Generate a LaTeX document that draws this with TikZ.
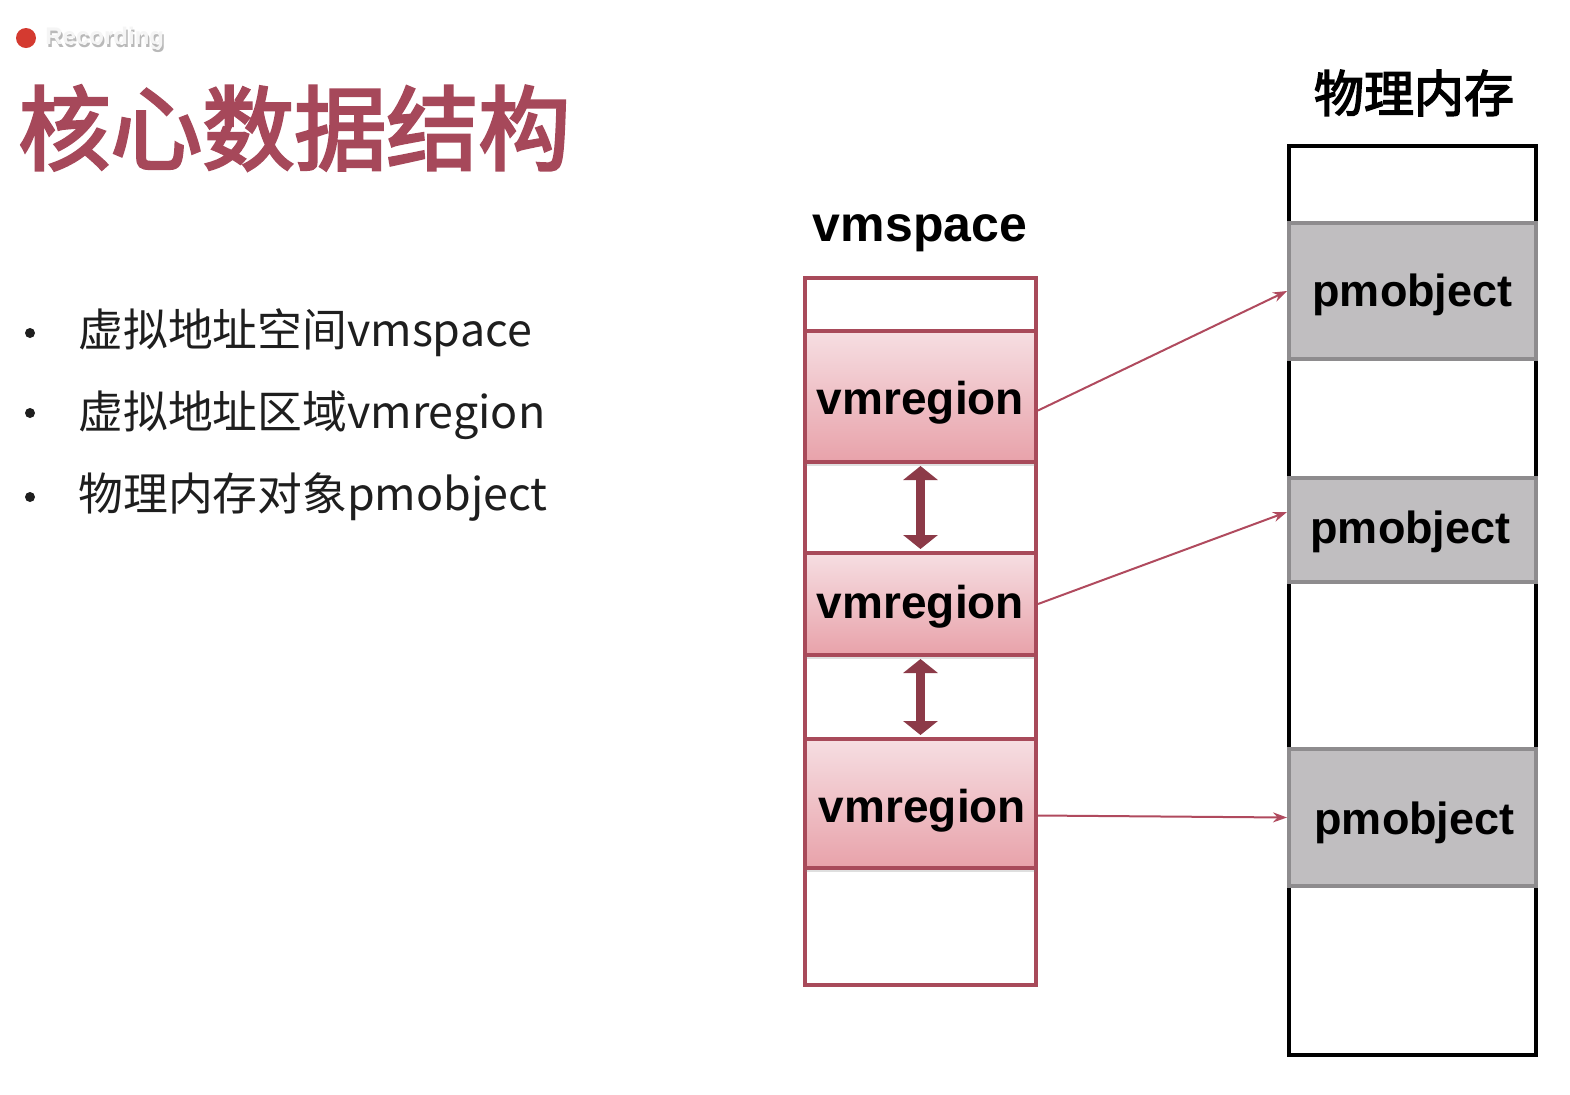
\documentclass[tikz,border=0pt]{standalone}
\usepackage{fontspec}
\setmainfont{Liberation Sans}
\newfontfamily\cjk{Noto Sans CJK SC}
\newfontfamily\cjkb{Noto Sans CJK SC}[FakeBold=3]
\usetikzlibrary{arrows.meta,shadows}
\definecolor{title}{RGB}{166,72,90}
\definecolor{vmred}{RGB}{168,74,90}
\definecolor{vmtop}{RGB}{246,222,226}
\definecolor{vmbot}{RGB}{232,162,170}
\definecolor{darr}{RGB}{140,58,72}
\definecolor{pmfill}{RGB}{192,190,192}
\definecolor{pmline}{RGB}{142,140,142}
\definecolor{lnk}{RGB}{176,74,94}
\definecolor{txt}{RGB}{30,30,30}
\definecolor{recdot}{RGB}{212,58,48}
\begin{document}
\begin{tikzpicture}[x=0.5pt,y=-0.5pt,
  vmbox/.style={draw=vmred,line width=2pt,minimum width=115.5pt,inner sep=0pt},
  vmreg/.style={vmbox,top color=vmtop,bottom color=vmbot,
     drop shadow={shadow xshift=0pt,shadow yshift=-2pt,opacity=0.25}},
  pmbox/.style={draw=black,line width=2pt,minimum width=123.5pt,inner sep=0pt},
  pmobj/.style={draw=pmline,fill=pmfill,line width=2pt,minimum width=123.5pt,inner sep=0pt},
  lbl/.style={inner sep=0pt,font=\bfseries\fontsize{23}{26}\selectfont},
  plbl/.style={inner sep=0pt,font=\bfseries\fontsize{22.5}{26}\selectfont},
  link/.style={draw=lnk,line width=1pt,-{Stealth[length=7pt,width=5pt]}},
  dbl/.style={draw=darr,line width=4.5pt,{Triangle[length=7pt,width=17pt]}-{Triangle[length=7pt,width=17pt]},shorten <=1pt,shorten >=1pt},
  bullet/.style={anchor=west,font=\cjk\fontsize{22.4}{26}\selectfont,text=txt,inner sep=0pt},
  dot/.style={circle,fill=txt,inner sep=0pt,minimum size=5pt}]
\useasboundingbox (0,0) rectangle (1570,1094);
\fill[white] (0,0) rectangle (1570,1094);
% recording overlay
\fill[recdot] (26,38) circle (10);
\node[anchor=west,inner sep=0pt,text=gray!55,font=\bfseries\fontsize{12}{14}\selectfont] (recs) at (46.5,41) {Recording};
\node[anchor=west,inner sep=0pt,text=gray!8,font=\bfseries\fontsize{12}{14}\selectfont] (rec) at (45,38) {Recording};
% title
\node[anchor=west,inner sep=0pt,text=title,font=\cjkb\fontsize{46}{50}\selectfont] (title) at (18,128) {核心数据结构};
% bullets
\node[dot] (b1) at (30,333) {};
\node[dot] (b2) at (30,413) {};
\node[dot] (b3) at (30,497) {};
\node[bullet] (t1) at (78,333) {虚拟地址空间vmspace};
\node[bullet] (t2) at (78,415) {虚拟地址区域vmregion};
\node[bullet] (t3) at (78,497) {物理内存对象pmobject};
% vmspace
\node[font=\bfseries\fontsize{25}{28}\selectfont,inner sep=0pt] (vmlabel) at (920,233) {vmspace};
\node[vmbox,minimum height=353.5pt] (vms) at (920.5,631.5) {};
\node[vmreg,minimum height=65.5pt] (vr1) at (920.5,396.5) {};
\node[vmreg,minimum height=51pt] (vr2) at (920.5,604) {};
\node[vmreg,minimum height=64.5pt] (vr3) at (920.5,803.5) {};
\node[lbl] (vl1) at ([yshift=-3pt]vr1.center) {vmregion};
\node[lbl] (vl2) at ([yshift=-1.5pt]vr2.center) {vmregion};
\node[lbl] (vl3) at ([xshift=1pt,yshift=-3.5pt]vr3.center) {vmregion};
\draw[dbl] (vr1.south) -- (vr2.north);
\draw[dbl] (vr2.south) -- (vr3.north);
% physical memory
\node[font=\cjkb\fontsize{25}{28}\selectfont,inner sep=0pt] (pmlabel) at (1414,93) {物理内存};
\node[pmbox,minimum height=454.5pt] (pm) at (1412.5,600.5) {};
\node[pmobj,minimum height=68pt] (pm1) at (1412.5,291) {};
\node[pmobj,minimum height=52pt] (pm2) at (1412.5,530) {};
\node[pmobj,minimum height=68.5pt] (pm3) at (1412.5,817.5) {};
\node[plbl] (pl1) at ([yshift=-2pt]pm1.center) {pmobject};
\node[plbl] (pl2) at ([xshift=-1pt,yshift=-1pt]pm2.center) {pmobject};
\node[plbl] (pl3) at ([xshift=1pt,yshift=-2.5pt]pm3.center) {pmobject};
% links
\draw[link] ([yshift=-7]vr1.east) -- (pm1.west);
\draw[link] (vr2.east) -- ([yshift=9]pm2.west);
\draw[link] ([yshift=-6]vr3.east) -- (pm3.west);
\end{tikzpicture}
\end{document}
